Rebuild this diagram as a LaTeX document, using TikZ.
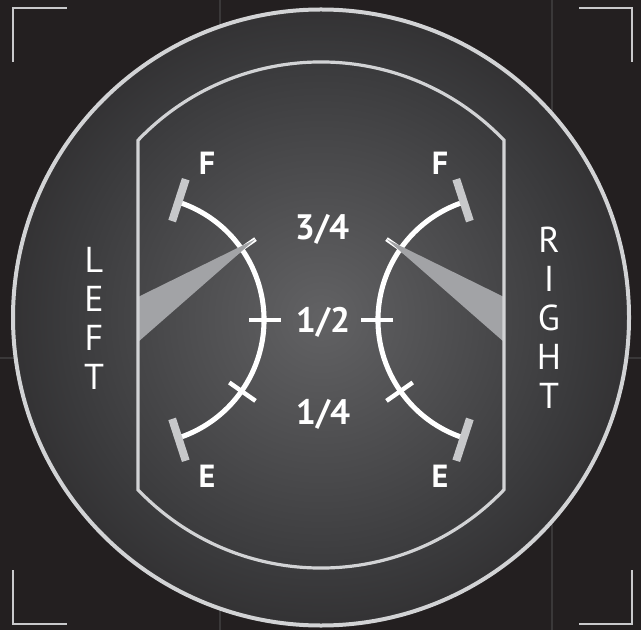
\documentclass[tikz,border=0pt]{standalone}
\usepackage{fontspec}
\setmainfont{PT Sans}
\usetikzlibrary{calc}
\definecolor{bg}{RGB}{35,31,32}
\definecolor{gridc}{RGB}{58,56,57}
\definecolor{ringc}{RGB}{210,211,213}
\definecolor{brk}{RGB}{201,201,203}
\definecolor{capc}{RGB}{199,200,202}
\definecolor{needlec}{RGB}{162,163,166}
\definecolor{shA}{RGB}{98,98,100}
\definecolor{shB}{RGB}{58,58,60}
\definecolor{shC}{RGB}{38,35,36}
\definecolor{shD}{RGB}{34,31,32}
\pgfdeclareradialshading{dial}{\pgfpoint{0bp}{0bp}}{color(0bp)=(shA); color(21bp)=(shB); color(33bp)=(shC); color(36bp)=(shD); color(50bp)=(shD)}
\tikzset{
  gridline/.style={draw=gridc, line width=1.8pt},
  ring/.style={draw=ringc, line width=3pt},
  inner/.style={draw=ringc, line width=2.4pt},
  bracket/.style={draw=brk, line width=1.5pt},
  gaugearc/.style={draw=white, line width=3.8pt},
  tickmark/.style={draw=white, line width=3.3pt},
  endcap/.style={draw=capc, line width=6pt},
  needle/.style={fill=needlec},
  lbl/.style={text=white, font=\fontsize{24}{24}\selectfont\bfseries, inner sep=0pt, anchor=base},
  qlbl/.style={lbl, font=\fontsize{26.5}{26.5}\selectfont\bfseries},
  side/.style={text=white, font=\fontsize{27}{29.25}\selectfont, inner sep=0pt, align=center, anchor=north}
}
\begin{document}
\begin{tikzpicture}[x=0.75pt,y=-0.75pt]
\fill[bg] (0,0) rectangle (641,630);
\useasboundingbox (0,0) rectangle (641,630);
% grid
\draw[gridline] (220,0) -- (220,630);
\draw[gridline] (552,0) -- (552,630);
\draw[gridline] (0,358) -- (641,358);
% corner brackets
\draw[bracket] (13,62) -- (13,8) -- (67,8);
\draw[bracket] (579,8) -- (632,8) -- (632,62);
\draw[bracket] (13,570) -- (13,624) -- (67,624);
\draw[bracket] (579,624) -- (632,624) -- (632,570);
% dial
\coordinate (C) at (321,317.5);
\path[shading=dial] (C) circle[radius=308];
\draw[ring] (C) circle[radius=308];
% gauges
\coordinate (GL) at (140,320);
\coordinate (GR) at (502,320);
\draw[gaugearc] ($(GL)+(-71:124)$) arc[start angle=-71, end angle=71, radius=124];
\draw[gaugearc] ($(GR)+(109:124)$) arc[start angle=109, end angle=251, radius=124];
\foreach \a in {-35,0,35}{
  \draw[tickmark] ($(GL)+(\a:109)$) -- ($(GL)+(\a:141)$);
  \draw[tickmark] ($(GR)+(180+\a:109)$) -- ($(GR)+(180+\a:141)$);
}
\fill[needle] ($(GL)+(-35:141)$) -- (138,297) -- (138,342) -- cycle;
\fill[needle] ($(GR)+(215:141)$) -- (504,297) -- (504,342) -- cycle;
\draw[endcap] ($(GL)+(-72:104)$) -- ($(GL)+(-72:148)$);
\draw[endcap] ($(GL)+(72:104)$) -- ($(GL)+(72:148)$);
\draw[endcap] ($(GR)+(252:104)$) -- ($(GR)+(252:148)$);
\draw[endcap] ($(GR)+(108:104)$) -- ($(GR)+(108:148)$);
% inner frame
\draw[inner] (138,140.3) arc[start angle=-136.34, end angle=-43.66, radius=253]
  -- (504,489.7) arc[start angle=43.66, end angle=136.34, radius=253] -- cycle;
% labels
\node[lbl] (fl) at (207,175) {F};
\node[lbl] (el) at (207,487) {E};
\node[lbl] (fr) at (440,174.5) {F};
\node[lbl] (er) at (440,487) {E};
\node[qlbl] (q3) at (322,240) {3/4};
\node[qlbl] (q2) at (323,332) {1/2};
\node[qlbl] (q1) at (323,424) {1/4};
\node[side] (left) at (94,247) {L\\E\\F\\T};
\node[side] (right) at (549,227) {R\\I\\G\\H\\T};
\end{tikzpicture}
\end{document}
